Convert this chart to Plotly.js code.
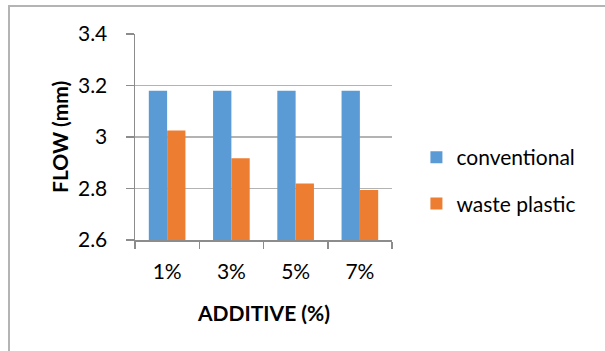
<!DOCTYPE html>
<html>
<head>
<meta charset="utf-8">
<script src="https://cdn.plot.ly/plotly-3.0.1.min.js"></script>
<style>
  html, body { margin: 0; padding: 0; background: #fff; }
  #wrap { position: relative; width: 605px; height: 351px; overflow: hidden; }
  #frame { position: absolute; left: 8px; top: 5px; right: -4px; bottom: -4px;
           border-left: 2px solid #b4b4b4; border-top: 2px solid #b4b4b4; pointer-events: none; z-index: 2; }
  #chart { position: absolute; left: 0; top: 0; width: 605px; height: 351px; }
</style>
</head>
<body>
<div id="wrap">
  <div id="chart"></div>
  <div id="frame"></div>
</div>
<script>
// Flow of mixes at each additive dosage
const additive = ['1%', '3%', '5%', '7%'];
const conventional = [3.18, 3.18, 3.18, 3.18];
const wastePlastic = [3.025, 2.917, 2.819, 2.794];

const FONT = 'Lato, "Open Sans", sans-serif';
const AXIS_GREY = '#8c8c8c';
const GRID_GREY = '#b3b3b3';

const traces = [
  { type: 'bar', name: 'conventional', x: additive, y: conventional,
    marker: { color: '#5B9BD5' }, legendgroup: 'a', hoverinfo: 'y' },
  { type: 'bar', name: 'waste plastic', x: additive, y: wastePlastic,
    marker: { color: '#ED7D31' }, legendgroup: 'b', hoverinfo: 'y' }
];

const layout = {
  width: 605, height: 351,
  margin: { l: 135, r: 213, t: 34, b: 111 },
  paper_bgcolor: '#fff', plot_bgcolor: '#fff',
  font: { family: FONT, size: 21, color: '#000' },
  barmode: 'group', bargap: 0.43, bargroupgap: 0,
  showlegend: true,
  legend: {
    x: 1.095, xanchor: 'left', y: 0.5, yanchor: 'top',
    font: { family: FONT, size: 21, color: '#000' },
    traceorder: 'grouped', tracegroupgap: 16,
    bgcolor: 'rgba(0,0,0,0)'
  },
  xaxis: {
    type: 'category',
    showline: true, linecolor: AXIS_GREY, linewidth: 1.5,
    ticks: 'outside', tickson: 'boundaries', ticklen: 7, tickcolor: AXIS_GREY, tickwidth: 1.5,
    ticklabelstandoff: 12,
    showgrid: false, zeroline: false,
    tickfont: { family: FONT, size: 21 }
  },
  yaxis: {
    range: [2.6, 3.4], dtick: 0.2, tick0: 2.6,
    showline: true, linecolor: AXIS_GREY, linewidth: 1.5,
    ticks: 'outside', ticklen: 8, tickcolor: AXIS_GREY, tickwidth: 1.5,
    ticklabelstandoff: 14,
    showgrid: true, gridcolor: GRID_GREY, gridwidth: 1.2,
    zeroline: false,
    tickfont: { family: FONT, size: 21 }
  },
  annotations: [
    { text: '<b>ADDITIVE (%)</b>', xref: 'paper', yref: 'paper',
      x: 0.5, y: -0.35, xanchor: 'center', yanchor: 'middle', showarrow: false,
      font: { family: FONT, size: 21, color: '#000' } },
    { text: '<b>FLOW (mm)</b>', xref: 'paper', yref: 'paper',
      x: -0.296, y: 0.5, xanchor: 'center', yanchor: 'middle', textangle: -90, showarrow: false,
      font: { family: FONT, size: 21, color: '#000' } }
  ]
};

Plotly.newPlot('chart', traces, layout, { displayModeBar: false, staticPlot: true });
</script>
</body>
</html>
